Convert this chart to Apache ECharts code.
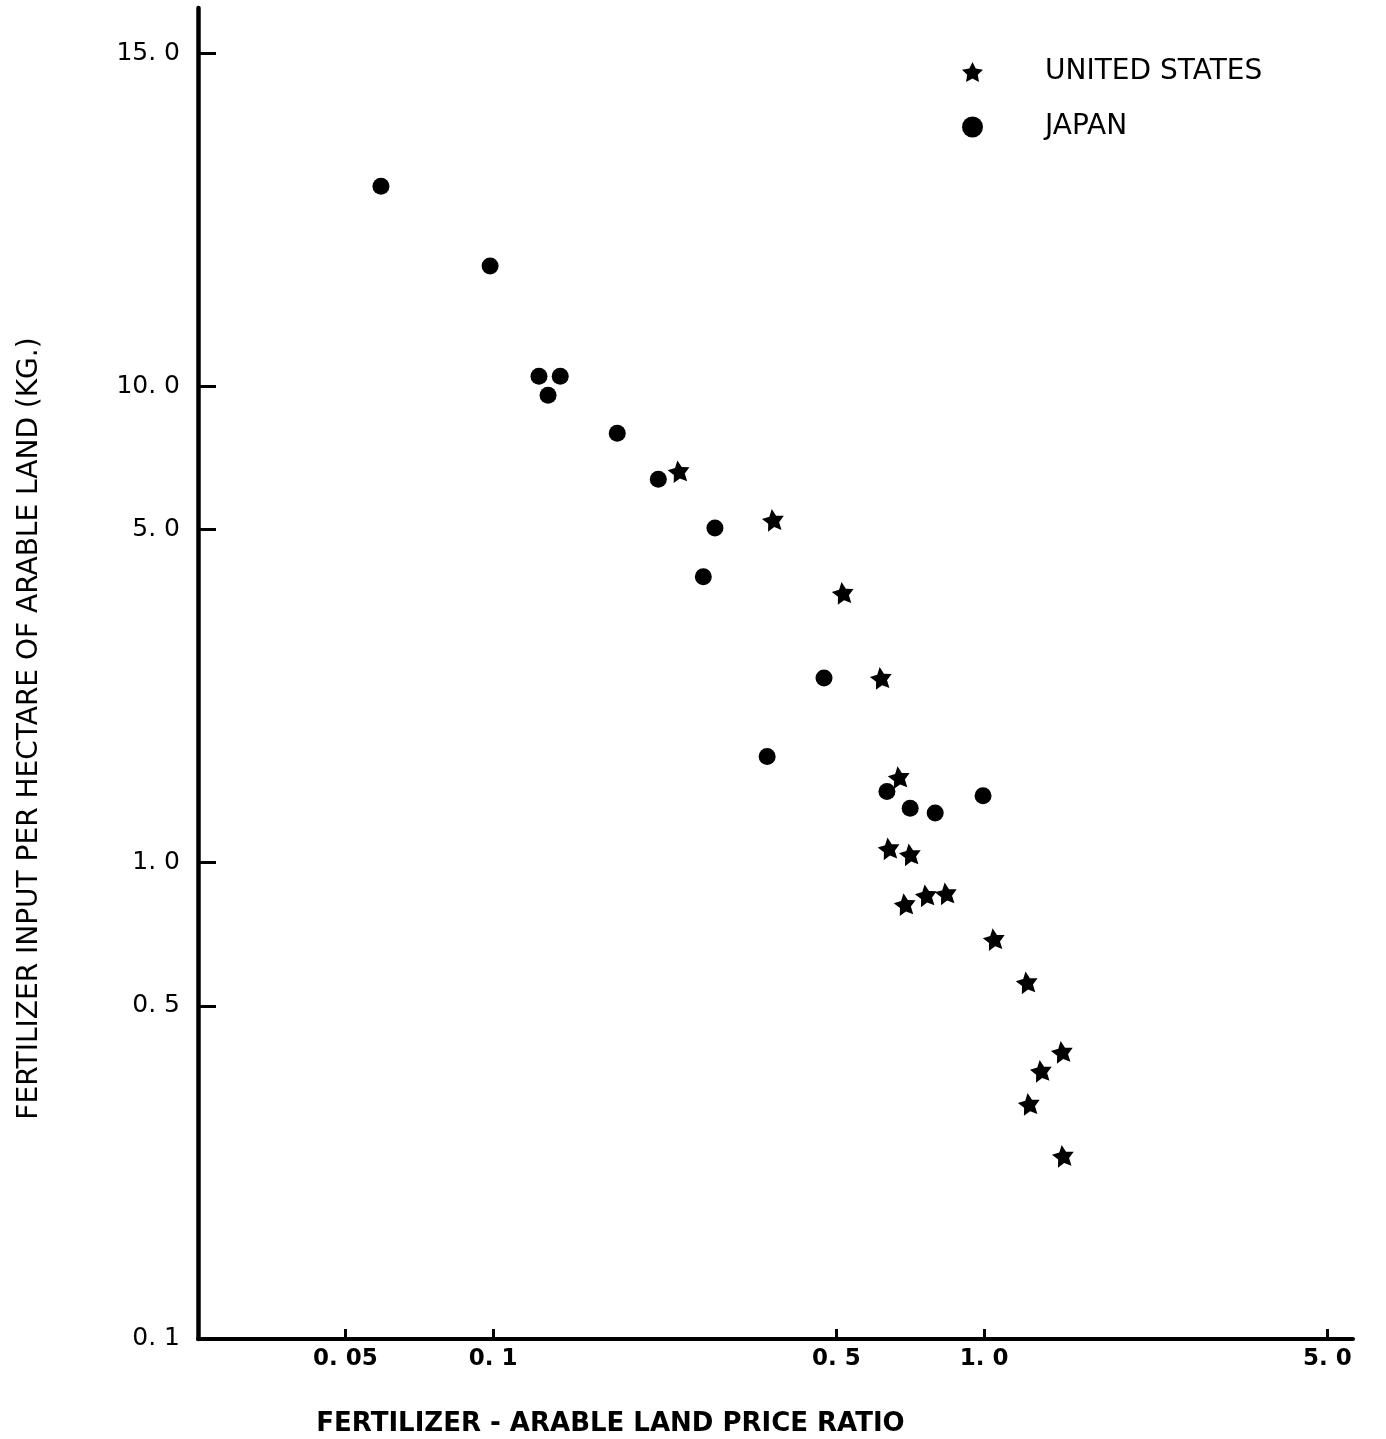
<!DOCTYPE html>
<html><head><meta charset="utf-8">
<script src="https://cdn.jsdelivr.net/npm/echarts@6/dist/echarts.min.js"></script>
<style>html,body{margin:0;padding:0;background:#fff}#c{width:1386px;height:1439px}</style>
</head><body><div id="c"></div>
<script>
// Fertilizer-arable land price ratio (x) vs fertilizer input per hectare (y)
const usData = [
  [0.239, 6.63], [0.372, 5.24], [0.516, 3.68], [0.617, 2.44], [0.671, 1.51],
  [0.640, 1.07], [0.707, 1.04], [0.690, 0.817], [0.762, 0.853], [0.837, 0.861],
  [1.048, 0.690], [1.223, 0.560], [1.442, 0.400], [1.307, 0.365], [1.235, 0.311],
  [1.449, 0.242]
];
const japanData = [
  [0.0591, 26.3], [0.0986, 17.9], [0.124, 10.5], [0.137, 10.5], [0.1294, 9.58],
  [0.179, 7.97], [0.217, 6.38], [0.283, 5.04], [0.268, 3.98], [0.472, 2.44],
  [0.3615, 1.67], [0.634, 1.41], [0.707, 1.30], [0.795, 1.27], [0.995, 1.38]
];
const xTickValues = [0.05, 0.1, 0.5, 1, 5];
const xTickLabels = ['0. 05', '0. 1', '0. 5', '1. 0', '5. 0'];
const yTickValues = [0.1, 0.5, 1, 5, 10, 50];
const yTickLabels = ['0. 1', '0. 5', '1. 0', '5. 0', '10. 0', '15. 0'];

const starPath = 'path://M0,-10 L2.94,-4.05 L9.51,-3.09 L4.76,1.55 L5.88,8.09 L0,5 L-5.88,8.09 L-4.76,1.55 L-9.51,-3.09 L-2.94,-4.05 Z';

function lookup(values, labels, v) {
  for (let i = 0; i < values.length; i++) {
    if (Math.abs(Math.log10(v) - Math.log10(values[i])) < 1e-4) return labels[i];
  }
  return '';
}

const FONT = 'DejaVu Sans';
const chart = echarts.init(document.getElementById('c'));
chart.setOption({
  backgroundColor: '#fff',
  animation: false,
  grid: { left: 198, right: 33, top: 8, bottom: 100, containLabel: false, outerBoundsMode: 'none' },
  legend: {
    orient: 'vertical', left: 957, top: 53, itemWidth: 21, itemHeight: 21, itemGap: 27,
    data: ['UNITED STATES', 'JAPAN'],
    textStyle: { fontFamily: FONT, fontSize: 28, lineHeight: 21, color: '#000', padding: [0, 0, 0, 57] }
  },
  xAxis: {
    type: 'log', logBase: 10, min: 0.02506, max: 5.64,
    name: 'FERTILIZER - ARABLE LAND PRICE RATIO',
    nameLocation: 'middle', nameGap: 72,
    nameTextStyle: { fontFamily: FONT, fontSize: 26, fontWeight: 'bold', color: '#000', padding: [0, 330, 0, 0] },
    axisLine: { show: true, lineStyle: { color: '#000', width: 4 } },
    axisTick: { show: true, inside: true, length: 10, customValues: xTickValues, lineStyle: { color: '#000', width: 3 } },
    axisLabel: {
      show: true, customValues: xTickValues, margin: 9,
      fontFamily: FONT, fontSize: 23, fontWeight: 'bold', color: '#000',
      formatter: v => lookup(xTickValues, xTickLabels, v)
    },
    splitLine: { show: false }, minorTick: { show: false }, minorSplitLine: { show: false }
  },
  yAxis: {
    type: 'log', logBase: 10, min: 0.0998, max: 62.3,
    name: 'FERTILIZER INPUT PER HECTARE OF ARABLE LAND (KG.)',
    nameLocation: 'middle', nameGap: 154,
    nameTextStyle: { fontFamily: FONT, fontSize: 28, color: '#000', padding: [0, 110, 0, 0] },
    axisLine: { show: true, lineStyle: { color: '#000', width: 4.5 } },
    axisTick: { show: true, inside: true, length: 18, customValues: yTickValues, lineStyle: { color: '#000', width: 3 } },
    axisLabel: {
      show: true, customValues: yTickValues, margin: 18,
      fontFamily: FONT, fontSize: 25, color: '#000',
      formatter: v => lookup(yTickValues, yTickLabels, v)
    },
    splitLine: { show: false }, minorTick: { show: false }, minorSplitLine: { show: false }
  },
  series: [
    {
      name: 'UNITED STATES', type: 'scatter', data: usData,
      symbol: starPath, symbolSize: 22, symbolRotate: 8,
      itemStyle: { color: '#000', opacity: 1 }
    },
    {
      name: 'JAPAN', type: 'scatter', data: japanData,
      symbol: 'circle', symbolSize: 17,
      itemStyle: { color: '#000', opacity: 1 }
    }
  ]
});
</script>
</body></html>
